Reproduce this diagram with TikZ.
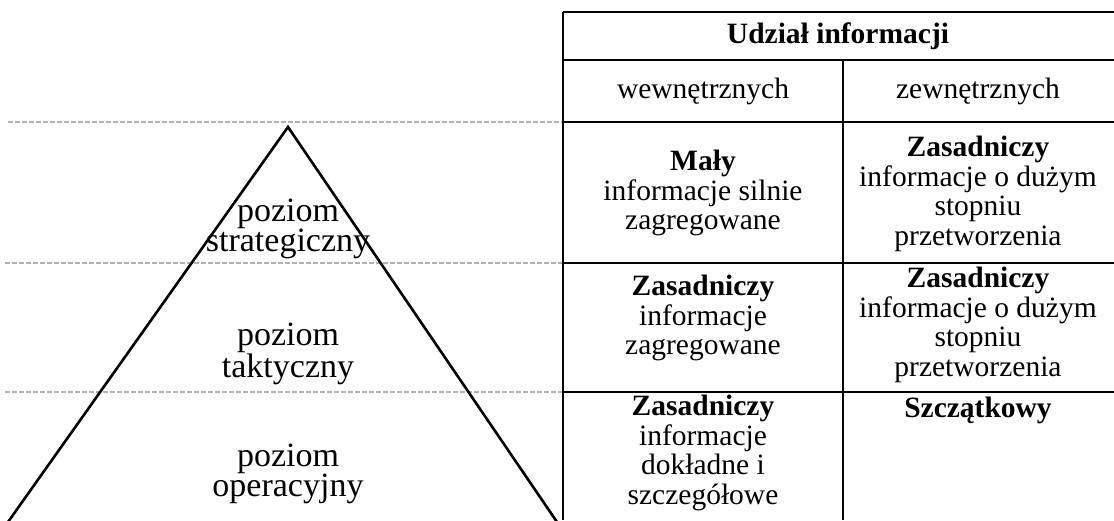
\documentclass[tikz,border=0pt]{standalone}
\usepackage{fontspec}
\setmainfont{Liberation Serif}
\begin{document}
\begin{tikzpicture}[x=1pt,y=-1pt,
  rule/.style={line width=2.6pt,black},
  guide/.style={line width=1.2pt,gray!60,dash pattern=on 5pt off 2pt},
  cell/.style={align=center,inner sep=0pt,font=\fontsize{29.5}{29.5}\selectfont},
  level/.style={align=center,inner sep=0pt,font=\fontsize{34}{29.5}\selectfont}]
\useasboundingbox (0,0) rectangle (1114,520);

% horizontal guide lines across the pyramid
\draw[guide] (8,122) -- (563,122);
\draw[guide] (5,263) -- (563,263);
\draw[guide] (5,392) -- (563,392);

% pyramid
\draw[rule,line join=miter] (8,522) -- (288,127) -- (557,522);

% table grid
\draw[rule] (563,12) -- (1114,12);
\draw[rule] (563,12) -- (563,520);
\draw[rule] (563,60) -- (1114,60);
\draw[rule] (563,122) -- (1114,122);
\draw[rule] (563,263) -- (1114,263);
\draw[rule] (563,392) -- (1114,392);
\draw[rule] (843,60) -- (843,520);

% pyramid levels
\node[level] (lvs) at (288,229) {poziom\\strategiczny};
\node[level] (lvt) at (288,354) {poziom\\taktyczny};
\node[level] (lvo) at (288,474) {poziom\\operacyjny};

% table header
\node[cell] (head) at (838,36) {\textbf{Udział informacji}};
\node[cell] (cin) at (703,91) {wewnętrznych};
\node[cell] (cex) at (978,91) {zewnętrznych};

% strategic row
\node[cell] (s1) at (703,193) {\textbf{Mały}\\informacje silnie\\zagregowane};
\node[cell] (s2) at (978,194) {\textbf{Zasadniczy}\\informacje o dużym\\stopniu\\przetworzenia};

% tactical row
\node[cell] (t1) at (703,318) {\textbf{Zasadniczy}\\informacje\\zagregowane};
\node[cell] (t2) at (978,325) {\textbf{Zasadniczy}\\informacje o dużym\\stopniu\\przetworzenia};

% operational row
\node[cell] (o1) at (703,453) {\textbf{Zasadniczy}\\informacje\\dokładne i\\szczegółowe};
\node[cell,anchor=north] (o2) at (978,397) {\textbf{Szczątkowy}};
\end{tikzpicture}
\end{document}
